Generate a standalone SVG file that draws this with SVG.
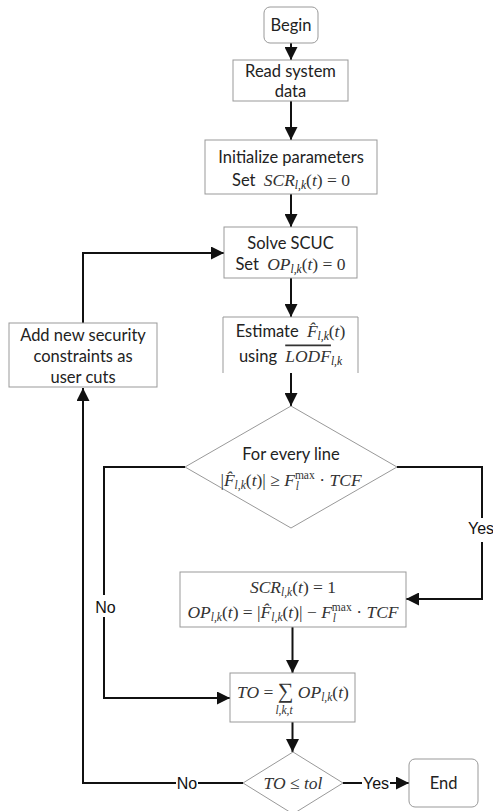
<svg xmlns="http://www.w3.org/2000/svg" width="493" height="811" viewBox="0 0 493 811">
<defs>
<marker id="ah" markerUnits="userSpaceOnUse" markerWidth="13" markerHeight="13" viewBox="0 0 13 13" refX="13" refY="6.5" orient="auto">
<path d="M0,0 L13,6.5 L0,13 Z" fill="#111"/>
</marker>
<style>
.box{fill:#fff;stroke:#999;stroke-width:1}
.con{fill:none;stroke:#111;stroke-width:2}
.t{font-family:Lato,"Liberation Sans",sans-serif;font-size:16.5px;fill:#222;text-anchor:middle}
.lab{font-family:"Liberation Sans",Arial,sans-serif;font-size:16px;fill:#111;text-anchor:middle}
.m{font-family:"Liberation Serif","DejaVu Serif",serif;font-style:normal}
.mi{font-family:"Liberation Serif","DejaVu Serif",serif;font-style:italic}
.sub{font-family:"Liberation Serif","DejaVu Serif",serif;font-style:italic;font-size:11.5px}
.sup{font-family:"Liberation Serif","DejaVu Serif",serif;font-style:normal;font-size:11.5px}
.math{font-family:"Liberation Serif","DejaVu Serif",serif;font-size:17.5px;fill:#333;text-anchor:middle}
.im{font-size:17.5px;fill:#333}
</style>
</defs>

<g id="connectors">
<path class="con" d="M291,43 V60" marker-end="url(#ah)"/>
<path class="con" d="M291,101 V140" marker-end="url(#ah)"/>
<path class="con" d="M291,194 V227" marker-end="url(#ah)"/>
<path class="con" d="M291,278 V317" marker-end="url(#ah)"/>
<path class="con" d="M291,373 V406" marker-end="url(#ah)"/>
<path class="con" d="M397,467 H482 V518"/>
<path class="con" d="M482,542 V599 H406" marker-end="url(#ah)"/>
<path class="con" d="M185,467 H104 V595"/>
<path class="con" d="M104,617 V698 H230" marker-end="url(#ah)"/>
<path class="con" d="M292.5,627 V673" marker-end="url(#ah)"/>
<path class="con" d="M292.5,722 V752" marker-end="url(#ah)"/>
<path class="con" d="M243,783 H198"/>
<path class="con" d="M176,783 H83 V388" marker-end="url(#ah)"/>
<path class="con" d="M83,323 V253 H224" marker-end="url(#ah)"/>
<path class="con" d="M343,783 H362"/>
<path class="con" d="M390,783 H409" marker-end="url(#ah)"/>
<text class="lab" x="468" y="534" text-anchor="start" style="text-anchor:start">Yes</text>
<text class="lab" x="105.5" y="613">No</text>
<text class="lab" x="187" y="789">No</text>
<text class="lab" x="376" y="789">Yes</text>
</g>

<g id="begin">
<rect class="box" x="264" y="7" width="54" height="36" rx="6"/>
<text class="t" x="291" y="31">Begin</text>
</g>

<g id="read">
<rect class="box" x="233" y="60" width="115" height="41"/>
<text class="t" x="290.5" y="77">Read system</text>
<text class="t" x="290.5" y="96.5">data</text>
</g>

<g id="init">
<rect class="box" x="205" y="140" width="172" height="54"/>
<text class="t" x="291" y="162.5">Initialize parameters</text>
<text class="t" x="291" y="186">Set <tspan class="mi im" dx="4">SCR</tspan><tspan class="sub" dy="3">l,k</tspan><tspan class="m im" dy="-3">(</tspan><tspan class="mi im">t</tspan><tspan class="m im">) = 0</tspan></text>
</g>

<g id="solve">
<rect class="box" x="224" y="227" width="133" height="51"/>
<text class="t" x="290.5" y="248.5">Solve SCUC</text>
<text class="t" x="290.5" y="269.5">Set <tspan class="mi im" dx="4">OP</tspan><tspan class="sub" dy="3">l,k</tspan><tspan class="m im" dy="-3">(</tspan><tspan class="mi im">t</tspan><tspan class="m im">) = 0</tspan></text>
</g>

<g id="estimate">
<path class="box" d="M223,373 V317 H358 V373" fill="none"/>
<text class="t" x="290.5" y="336.5">Estimate <tspan class="mi im" dx="4">F̂</tspan><tspan class="sub" dy="3">l,k</tspan><tspan class="m im" dy="-3">(</tspan><tspan class="mi im">t</tspan><tspan class="m im">)</tspan></text>
<text class="t" x="290.5" y="361.5">using <tspan class="mi im" dx="4" text-decoration="overline">LODF</tspan><tspan class="sub" dy="3">l,k</tspan></text>
</g>

<g id="check">
<polygon class="box" points="291,406 397,467 291,528 185,467"/>
<text class="t" x="291" y="459.5">For every line</text>
<text class="math" x="291" y="486"><tspan class="m">|</tspan><tspan class="mi">F̂</tspan><tspan class="sub" dy="3">l,k</tspan><tspan class="m" dy="-3">(</tspan><tspan class="mi">t</tspan><tspan class="m">)| ≥ </tspan><tspan class="mi">F</tspan><tspan class="sup" dy="-7">max</tspan><tspan class="sub" dx="-19" dy="11">l</tspan><tspan class="m" dx="16" dy="-4"> · </tspan><tspan class="mi">TCF</tspan></text>
</g>

<g id="update">
<rect class="box" x="180" y="572" width="226" height="55"/>
<text class="math" x="293" y="593"><tspan class="mi">SCR</tspan><tspan class="sub" dy="3">l,k</tspan><tspan class="m" dy="-3">(</tspan><tspan class="mi">t</tspan><tspan class="m">) = 1</tspan></text>
<text class="math" x="293" y="618"><tspan class="mi">OP</tspan><tspan class="sub" dy="3">l,k</tspan><tspan class="m" dy="-3">(</tspan><tspan class="mi">t</tspan><tspan class="m">) = |</tspan><tspan class="mi">F̂</tspan><tspan class="sub" dy="3">l,k</tspan><tspan class="m" dy="-3">(</tspan><tspan class="mi">t</tspan><tspan class="m">)| − </tspan><tspan class="mi">F</tspan><tspan class="sup" dy="-7">max</tspan><tspan class="sub" dx="-19" dy="11">l</tspan><tspan class="m" dx="16" dy="-4"> · </tspan><tspan class="mi">TCF</tspan></text>
</g>

<g id="total">
<rect class="box" x="230" y="673" width="125" height="49"/>
<text class="math" x="293" y="698"><tspan class="mi">TO</tspan><tspan class="m"> = </tspan><tspan class="m" font-size="22">∑</tspan><tspan class="mi"> OP</tspan><tspan class="sub" dy="3">l,k</tspan><tspan class="m" dy="-3">(</tspan><tspan class="mi">t</tspan><tspan class="m">)</tspan></text>
<text class="sub" x="284" y="714" text-anchor="middle" fill="#333">l,k,t</text>
</g>

<g id="decide">
<polygon class="box" points="293,752 343,783 293,814 243,783"/>
<text class="math" x="293" y="788.5"><tspan class="mi">TO</tspan><tspan class="m"> ≤ </tspan><tspan class="mi">tol</tspan></text>
</g>

<g id="addcuts">
<rect class="box" x="9" y="323" width="148" height="64"/>
<text class="t" x="83" y="340.5">Add new security</text>
<text class="t" x="83" y="361.5">constraints as</text>
<text class="t" x="83" y="382.5">user cuts</text>
</g>

<g id="end">
<rect class="box" x="409" y="759" width="69" height="48" rx="6"/>
<text class="t" x="443.5" y="789">End</text>
</g>
</svg>
